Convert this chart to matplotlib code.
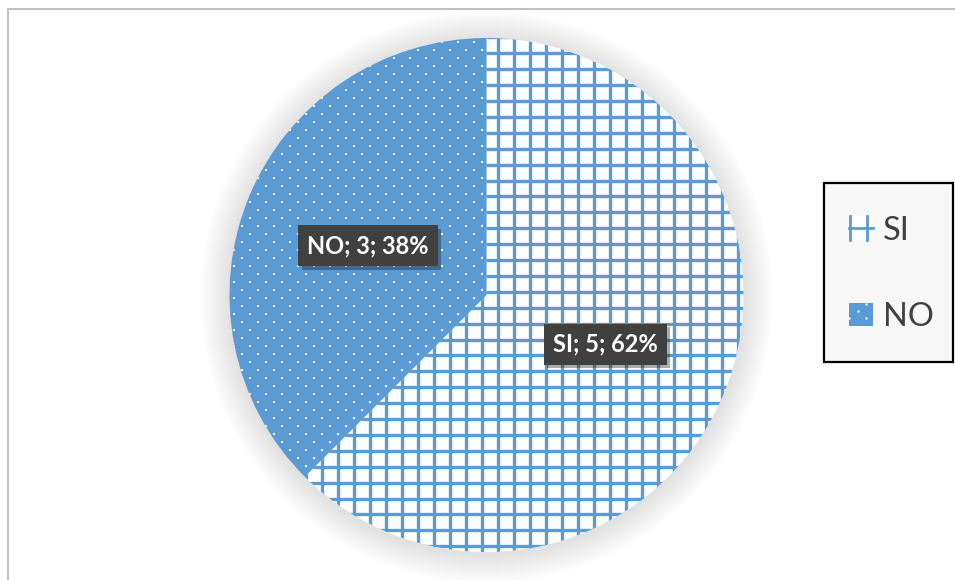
import numpy as np
import matplotlib
matplotlib.use("Agg")
import matplotlib.pyplot as plt
from matplotlib.patches import Circle, Rectangle, Patch
from matplotlib.collections import LineCollection
from matplotlib.legend_handler import HandlerBase
from matplotlib.lines import Line2D
import matplotlib.patheffects as pe

# Survey answers
categories = ["SI", "NO"]
counts = [5, 3]

BLUE = "#5B9BD5"
TEXT_DARK = "#404040"

W, H = 955, 580
fig = plt.figure(figsize=(W / 100, H / 100), dpi=100)
ax = fig.add_axes([0, 0, 1, 1])

cx, cy, R = 486.5, H - 295, 257

# soft glow around the pie
for i in range(30, 0, -1):
    ax.add_patch(Circle((cx, cy - 2), R + i, facecolor="black", alpha=0.0045,
                        edgecolor="none", zorder=1))

wedges, _, autotexts = ax.pie(
    counts, startangle=90, counterclock=False, center=(cx, cy), radius=R,
    colors=["white", BLUE], autopct="%.0f%%", pctdistance=0.5,
    wedgeprops=dict(linewidth=0), frame=True,
)
for w in wedges:
    w.set_zorder(2)
ax.set_xlim(0, W)
ax.set_ylim(0, H)
ax.set_aspect("equal")
ax.axis("off")

# grid texture on the SI slice
segs = []
for x in np.arange(498 - 16 * 20, 498 + 16 * 20, 16.0):
    segs.append([(x, cy - R - 5), (x, cy + R + 5)])
for yp in np.arange(53.3 - 15.9 * 5, 53.3 + 15.9 * 40, 15.9):
    segs.append([(cx - R - 5, H - yp), (cx + R + 5, H - yp)])
grid = LineCollection(segs, colors=BLUE, linewidths=2.4, zorder=3)
grid.set_clip_path(wedges[0])
ax.add_collection(grid)

# dotted texture on the NO slice
xs, ys = [], []
for j in range(-10, 80):
    yp = 42 + 8 * j
    off = 0 if j % 2 == 0 else -8
    for i in range(-40, 40):
        xs.append(458.3 + off + 16 * i)
        ys.append(H - yp)
dots = ax.scatter(xs, ys, s=2.4, marker="s", c="white", linewidths=0, zorder=3)
dots.set_clip_path(wedges[1])

# value labels
for cat, val, t in zip(categories, counts, autotexts):
    t.set_text(f"{cat}; {val}; {t.get_text()}")
    t.set_fontfamily("Lato")
    t.set_fontweight("bold")
    t.set_fontsize(17)
    t.set_color("white")
    t.set_zorder(6)
    t.set_bbox(dict(boxstyle="square,pad=0.38", facecolor=TEXT_DARK,
                    edgecolor="none"))
    t.get_bbox_patch().set_path_effects(
        [pe.SimplePatchShadow(offset=(2.5, -2.5), alpha=0.35), pe.Normal()])


class GridKey(HandlerBase):
    """Legend key with the slice's grid texture."""

    def create_artists(self, legend, orig_handle, xd, yd, width, height,
                       fontsize, trans):
        bg = Rectangle((xd, yd), width, height, facecolor="white",
                       edgecolor="none", transform=trans)
        lw = 2.0
        v1 = Line2D([xd + 0.05 * width] * 2, [yd, yd + height], color=BLUE,
                    lw=lw, transform=trans)
        v2 = Line2D([xd + 0.75 * width] * 2, [yd, yd + height], color=BLUE,
                    lw=lw, transform=trans)
        h1 = Line2D([xd, xd + width], [yd + 0.5 * height] * 2, color=BLUE,
                    lw=lw, transform=trans)
        return [bg, v1, v2, h1]


class DotKey(HandlerBase):
    """Legend key with the slice's dotted texture."""

    def create_artists(self, legend, orig_handle, xd, yd, width, height,
                       fontsize, trans):
        bg = Rectangle((xd, yd), width, height, facecolor=BLUE,
                       edgecolor="none", transform=trans)
        d = Line2D([xd + 0.35 * width, xd + 0.7 * width, xd + 0.02 * width,
                    xd + 0.7 * width],
                   [yd + 0.65 * height, yd + 0.35 * height,
                    yd + 0.35 * height, yd + 0.95 * height],
                   ls="none", marker="s", ms=1.6, mfc="white", mec="none",
                   transform=trans)
        return [bg, d]


# legend box
ax.add_patch(Rectangle((824, H - 362), 953 - 824, 362 - 183,
                       facecolor="#F8F8F8", edgecolor="black", linewidth=1.6,
                       zorder=4))

handles = [Patch(facecolor="white"), Patch(facecolor=BLUE)]
leg = ax.legend(handles, categories, loc="center left",
                bbox_to_anchor=(849 / W, 1 - 274 / H),
                handler_map={handles[0]: GridKey(), handles[1]: DotKey()},
                prop=dict(family="Lato", size=23.5), labelcolor=TEXT_DARK,
                frameon=False, borderpad=0, labelspacing=1.72,
                handlelength=0.75, handleheight=0.72,
                handletextpad=0.3, borderaxespad=0)
leg.set_zorder(5)

# chart area border
ax.add_patch(Rectangle((8, -50), 1200, H - 9 + 50, facecolor="none",
                       edgecolor="#C0C0C0", linewidth=1.4, zorder=0))

fig.savefig("out.png", dpi=100)
